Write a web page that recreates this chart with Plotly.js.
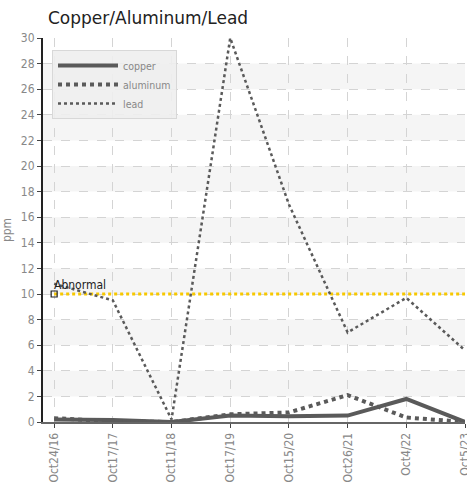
<!DOCTYPE html>
<html><head><meta charset="utf-8">
<script src="https://cdn.plot.ly/plotly-3.0.1.min.js"></script>
<style>html,body{margin:0;padding:0;background:#fff}#c{width:467px;height:482px}</style>
</head><body><div id="c"></div>
<script>
const categories = ["Oct24/16","Oct17/17","Oct11/18","Oct17/19","Oct15/20","Oct26/21","Oct4/22","Oct5/23"];
const copper   = [0.2, 0.15, 0.0, 0.5, 0.45, 0.5, 1.8, 0.0];
const aluminum = [0.3, 0.05, 0.0, 0.6, 0.75, 2.1, 0.35, 0.0];
const lead     = [10.8, 9.5, 0.2, 30, 17, 7.0, 9.7, 5.6];
const abnormal = 10;
const yTicks = [0,2,4,6,8,10,12,14,16,18,20,22,24,26,28,30];

const font = "DejaVu Sans Condensed, Liberation Sans Narrow, Arial Narrow, sans-serif";
const lineCol = "#5a5a5a";

// alternate bands
const shapes = [];
for (let i = 0; i + 1 < yTicks.length; i++) {
  if (i % 2 === 1) {
    shapes.push({type:"rect", xref:"paper", yref:"y", x0:0, x1:1, y0:yTicks[i], y1:yTicks[i+1],
      fillcolor:"#f5f5f5", line:{width:0}, layer:"below"});
  }
}

const traces = [
  {x:categories, y:categories.map(()=>abnormal), mode:"lines", type:"scatter", showlegend:false,
   line:{color:"#f7c800", width:3, dash:"dot"}, hoverinfo:"skip"},
  {x:[categories[0]], y:[abnormal], mode:"markers", type:"scatter", showlegend:false,
   marker:{symbol:"square-open", size:6, color:"#222", line:{width:1.2, color:"#222"}}},
  {x:categories, y:copper, name:"copper", mode:"lines", type:"scatter",
   line:{color:lineCol, width:4}},
  {x:categories, y:aluminum, name:"aluminum", mode:"lines", type:"scatter",
   line:{color:lineCol, width:4, dash:"dot"}},
  {x:categories, y:lead, name:"lead", mode:"lines", type:"scatter",
   line:{color:lineCol, width:2.5, dash:"dot"}}
];

const layout = {
  width:467, height:482,
  margin:{l:43, r:2, t:38, b:60},
  paper_bgcolor:"#fff", plot_bgcolor:"#fff",
  title:{text:"Copper/Aluminum/Lead", x:48/467, xanchor:"left", y:1-18/482, yanchor:"middle",
    font:{family:"DejaVu Sans, sans-serif", size:17, color:"#222"}},
  font:{family:font, size:12, color:"#888"},
  xaxis:{type:"category", range:[-0.19, 7], tickvals:categories, ticktext:categories,
    tickangle:-90, showgrid:true, gridcolor:"#d4d4d4", griddash:"dash", gridwidth:1,
    showline:true, linecolor:"#666", linewidth:2, ticks:"outside", ticklen:4, tickcolor:"#444",
    tickfont:{family:font, size:12, color:"#888"}, zeroline:false},
  yaxis:{range:[0,30], tickvals:yTicks, showgrid:true, gridcolor:"#d4d4d4", griddash:"dash",
    showline:true, linecolor:"#222", linewidth:2, ticks:"outside", ticklen:4, tickcolor:"#444",
    tickfont:{family:font, size:12, color:"#888"}, zeroline:false,
    title:{text:"ppm", standoff:8, font:{family:font, size:12, color:"#888"}}},
  legend:{x:(52-43)/422, y:1-(50-38)/384, xanchor:"left", yanchor:"top",
    bgcolor:"rgba(238,238,238,0.9)", bordercolor:"#d8d8d8", borderwidth:1,
    font:{family:font, size:10.5, color:"#888"}, tracegroupgap:0, itemwidth:60},
  shapes:shapes,
  annotations:[{x:0, y:abnormal, xref:"x", yref:"y", text:"Abnormal", showarrow:false,
    xanchor:"left", yanchor:"bottom", xshift:-2, yshift:0,
    font:{family:font, size:12, color:"#222"}}],
  showlegend:true
};
Plotly.newPlot("c", traces, layout, {displayModeBar:false, staticPlot:true});
</script></body></html>
